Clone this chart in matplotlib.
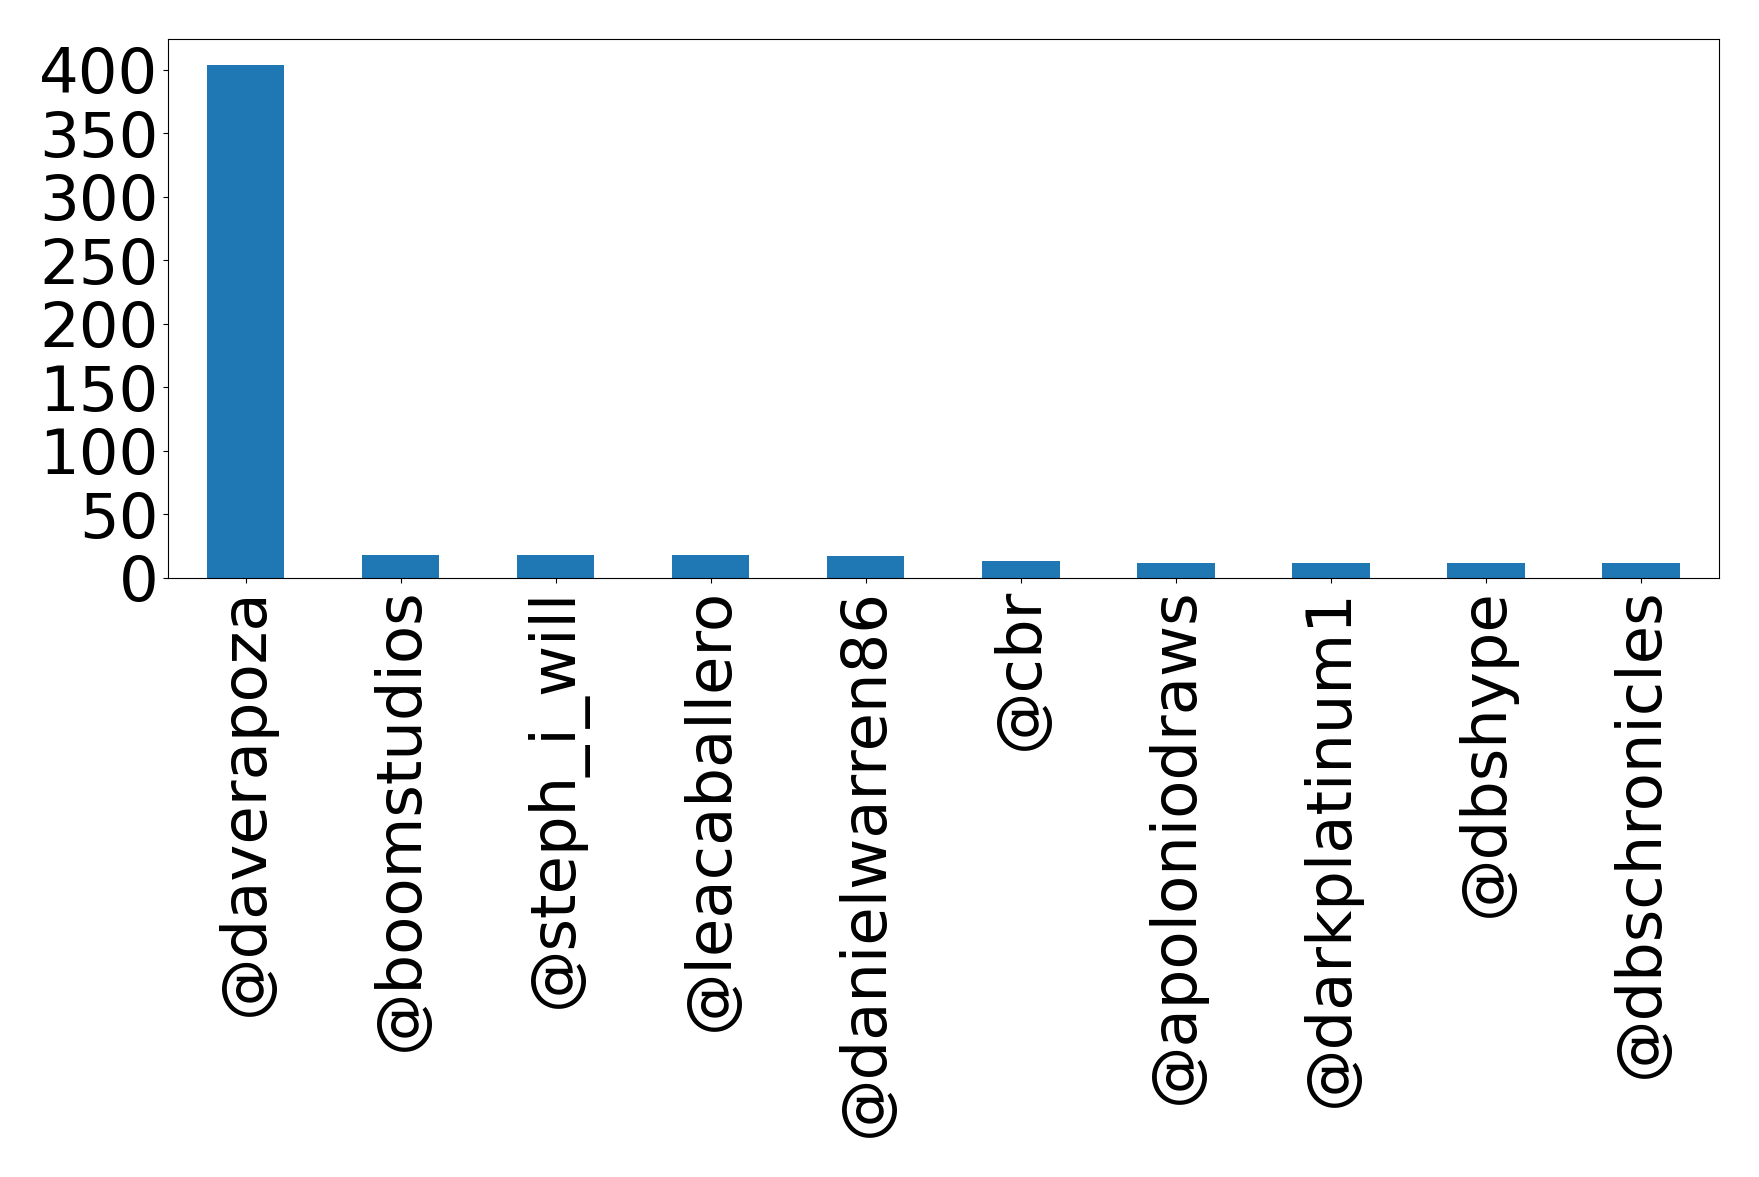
import matplotlib
matplotlib.use('Agg')
import matplotlib.pyplot as plt
from matplotlib.ticker import MultipleLocator

users = ['@daverapoza', '@boomstudios', '@steph_i_will', '@leacaballero',
         '@danielwarren86', '@cbr', '@apoloniodraws', '@darkplatinum1',
         '@dbshype', '@dbschronicles']
counts = [404, 18, 18, 18, 17, 13, 12, 12, 12, 12]

fig, ax = plt.subplots(figsize=(17.59, 11.77), dpi=100)
pos = list(range(len(users)))
ax.bar(pos, counts, width=0.5, color='#1f77b4')
ax.set_xlim(-0.5, len(users) - 0.5)
ax.set_xticks(pos)
ax.set_xticklabels(users, rotation=90, fontsize=45)
ax.yaxis.set_major_locator(MultipleLocator(50))
ax.tick_params(axis='y', labelsize=45)

fig.subplots_adjust(left=0.0955, right=0.977, top=0.967, bottom=0.509)
fig.savefig('out.png')
